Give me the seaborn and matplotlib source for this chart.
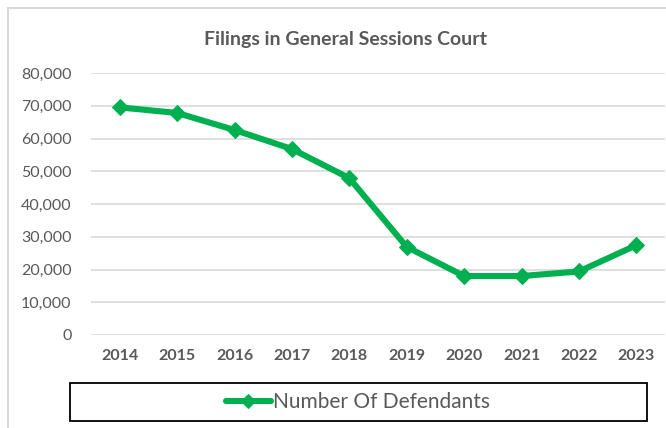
import numpy as np
import pandas as pd
import matplotlib
matplotlib.use("Agg")
import matplotlib.pyplot as plt
import matplotlib.ticker as mticker
from matplotlib.patches import Rectangle
import seaborn as sns

years = ["2014", "2015", "2016", "2017", "2018", "2019", "2020", "2021", "2022", "2023"]
defendants = [69500, 67800, 62600, 56800, 47900, 26900, 18000, 18000, 19400, 27400]
series_name = "Number Of Defendants"
title = "Filings in General Sessions Court"

sns.set_theme(style="white")
plt.rcParams["font.family"] = ["Lato", "DejaVu Sans"]

green = "#00B050"
text_gray = "#595959"
grid_gray = "#D9D9D9"

df = pd.DataFrame({"year": years, "value": defendants})

fig = plt.figure(figsize=(6.66, 4.28), dpi=100)
ax = fig.add_axes([91 / 666, 1 - 335 / 428, 574 / 666, (335 - 73) / 428])

sns.lineplot(
    data=df,
    x="year",
    y="value",
    ax=ax,
    color=green,
    linewidth=4.4,
    marker="D",
    markersize=8.5,
    markeredgecolor=green,
    label=series_name,
    legend=False,
)

ax.set_ylim(0, 80000)
ax.set_xlim(-0.5, len(years) - 0.5)
ax.set_yticks(np.arange(0, 80001, 10000))
ax.yaxis.set_major_formatter(mticker.FuncFormatter(lambda v, p: f"{int(v):,}"))
ax.grid(axis="y", color=grid_gray, linewidth=1.2)
ax.set_axisbelow(True)
for s in ax.spines.values():
    s.set_visible(False)
ax.set_xlabel("")
ax.set_ylabel("")
ax.tick_params(axis="y", labelsize=11.5, labelcolor=text_gray, pad=14, length=0)
ax.tick_params(axis="x", labelsize=11.5, labelcolor=text_gray, pad=10, length=0)
for lbl in ax.get_xticklabels():
    lbl.set_fontweight("bold")

fig.text(345 / 666, 1 - 40 / 428, title, ha="center", va="center",
         fontsize=14, fontweight="bold", color=text_gray)

# outer chart border
fig.patches.append(Rectangle((8 / 666, -0.05), 1.1, 1 - 8 / 428 + 0.05,
                             transform=fig.transFigure, fill=False,
                             edgecolor=grid_gray, linewidth=1.5))

# legend box
fig.patches.append(Rectangle((70 / 666, 1 - 421 / 428), 577 / 666, 38 / 428,
                             transform=fig.transFigure, fill=False,
                             edgecolor="black", linewidth=1.3))
handles, labels = ax.get_legend_handles_labels()
fig.legend(handles, labels, loc="center", bbox_to_anchor=(358 / 666, 1 - 402 / 428),
           frameon=False, fontsize=15, labelcolor=text_gray, handlelength=2.2,
           handletextpad=0.1, markerscale=0.8)

fig.savefig("out.png", dpi=100)
